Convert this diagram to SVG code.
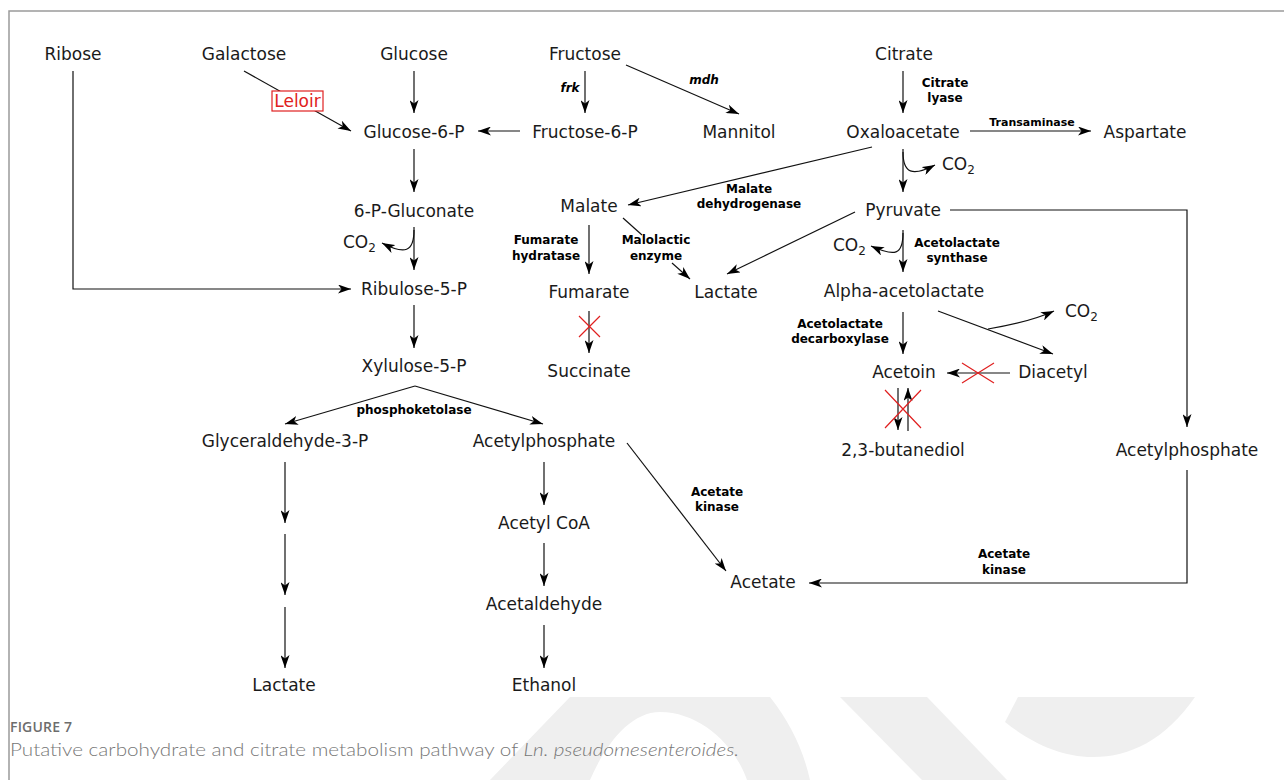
<svg xmlns="http://www.w3.org/2000/svg" width="1284" height="780" viewBox="0 0 1284 780">
<defs>
<marker id="ah" markerUnits="userSpaceOnUse" viewBox="0 0 13 9" refX="13" refY="4.5" markerWidth="13" markerHeight="9" orient="auto">
<path d="M0,0 L13,4.5 L0,9 L3.5,4.5 Z" fill="#000"/>
</marker>
</defs>
<style>
.n{font-family:"DejaVu Sans",Verdana,sans-serif;font-size:17px;fill:#1a1a1a;text-anchor:middle}
.co{font-family:"DejaVu Sans",Verdana,sans-serif;font-size:17px;fill:#1a1a1a}
.l{font-family:"DejaVu Sans",Verdana,sans-serif;font-size:12px;font-weight:bold;fill:#000;text-anchor:middle}
.li{font-style:italic}
.c{fill:none;stroke:#111;stroke-width:1.2}
.a{marker-end:url(#ah)}
.x{stroke:#e02020;stroke-width:1.2;fill:none}
.wm{fill:#efefef}
</style>
<rect width="1284" height="780" fill="#fff"/>
<g id="watermark">
<path class="wm" d="M490,780 L570,697 L770,697 Q800,735 810,780 L747,780 C735,745 700,712 660,712 C630,712 605,745 590,780 Z"/>
<path class="wm" d="M840,697 L927,697 L1007,780 L922,780 Z"/>
<path class="wm" d="M1018,697 L1195,697 C1165,740 1130,757 1093,757 C1060,757 1030,742 1005,722 Z"/>
</g>
<path d="M9,780 V11 H1284" fill="none" stroke="#9a9a9a" stroke-width="1.5"/>

<g id="connectors">
<path class="c" d="M73,71 V289 H351" marker-end="url(#ah)"/>
<path class="c a" d="M244,71 L351,131"/>
<path class="c a" d="M414,71 V113"/>
<path class="c a" d="M520,131 H478"/>
<path class="c a" d="M585,71 V113"/>
<path class="c a" d="M626,65 L739,114"/>
<path class="c a" d="M903,71 V113"/>
<path class="c a" d="M970,131 H1091"/>
<path class="c a" d="M414,149 V192"/>
<path class="c a" d="M414,227 V270"/>
<path class="c a" d="M414,230 C414,252 405,255 382,243"/>
<path class="c a" d="M903,149 V192"/>
<path class="c a" d="M903,152 C903,173 912,177 935,165"/>
<path class="c a" d="M872,147 L628,205"/>
<path class="c a" d="M950,210 H1187 V427"/>
<path class="c a" d="M589,225 V274"/>
<path class="c" d="M623,218 L642,235"/>
<path class="c a" d="M672,263 L690,279"/>
<path class="c a" d="M855,212 L727,274"/>
<path class="c a" d="M903,230 V272"/>
<path class="c a" d="M903,233 C903,255 895,257 871,246"/>
<path class="c a" d="M589,311 V353"/>
<path class="c a" d="M414,305 V348"/>
<path class="c a" d="M903,312 V354"/>
<path class="c a" d="M938,311 L1053,354"/>
<path class="c a" d="M988,329 Q1030,322 1054,311"/>
<path class="c a" d="M1010,373 H947"/>
<path class="c a" d="M898,388 V430"/>
<path class="c a" d="M908,431 V388"/>
<path class="c a" d="M415,386 L285,424"/>
<path class="c a" d="M415,386 L543,424"/>
<path class="c a" d="M285,462 V523"/>
<path class="c a" d="M285,534 V595"/>
<path class="c a" d="M285,607 V668"/>
<path class="c a" d="M544,462 V505"/>
<path class="c a" d="M544,543 V586"/>
<path class="c a" d="M544,625 V668"/>
<path class="c a" d="M627,443 L726,571"/>
<path class="c a" d="M1187,470 V583 H809"/>
<path class="x" d="M579,316 L600,337 M600,316 L579,337"/>
<path class="x" d="M962,363 L994,383 M994,363 L962,383"/>
<path class="x" d="M885,390 L921,428 M921,390 L885,428"/>
</g>

<g id="n-ribose"><text class="n" x="73" y="60">Ribose</text></g>
<g id="n-galactose"><text class="n" x="244" y="60">Galactose</text></g>
<g id="n-leloir"><rect x="272" y="91" width="51" height="20" fill="#fff" stroke="#e02020" stroke-width="1.2"/><text class="n" x="297.5" y="107" style="fill:#e02020">Leloir</text></g>
<g id="n-glucose"><text class="n" x="414" y="60">Glucose</text></g>
<g id="n-fructose"><text class="n" x="585" y="60">Fructose</text></g>
<g id="n-citrate"><text class="n" x="904" y="60">Citrate</text></g>
<g id="n-g6p"><text class="n" x="414" y="138">Glucose-6-P</text></g>
<g id="n-f6p"><text class="n" x="585" y="138">Fructose-6-P</text></g>
<g id="n-mannitol"><text class="n" x="739" y="138">Mannitol</text></g>
<g id="n-oxaloacetate"><text class="n" x="903" y="138">Oxaloacetate</text></g>
<g id="n-aspartate"><text class="n" x="1145" y="138">Aspartate</text></g>
<g id="n-6pg"><text class="n" x="414" y="217">6-P-Gluconate</text></g>
<g id="n-malate"><text class="n" x="589" y="212">Malate</text></g>
<g id="n-pyruvate"><text class="n" x="903" y="216">Pyruvate</text></g>
<g id="n-ribulose"><text class="n" x="414" y="295">Ribulose-5-P</text></g>
<g id="n-fumarate"><text class="n" x="589" y="298">Fumarate</text></g>
<g id="n-lactate1"><text class="n" x="726" y="298">Lactate</text></g>
<g id="n-alpha"><text class="n" x="904" y="297">Alpha-acetolactate</text></g>
<g id="n-xylulose"><text class="n" x="414" y="372">Xylulose-5-P</text></g>
<g id="n-succinate"><text class="n" x="589" y="377">Succinate</text></g>
<g id="n-acetoin"><text class="n" x="904" y="378">Acetoin</text></g>
<g id="n-diacetyl"><text class="n" x="1053" y="378">Diacetyl</text></g>
<g id="n-g3p"><text class="n" x="285" y="447">Glyceraldehyde-3-P</text></g>
<g id="n-acp1"><text class="n" x="544" y="447">Acetylphosphate</text></g>
<g id="n-butanediol"><text class="n" x="903" y="456">2,3-butanediol</text></g>
<g id="n-acp2"><text class="n" x="1187" y="456">Acetylphosphate</text></g>
<g id="n-acetylcoa"><text class="n" x="544" y="529">Acetyl CoA</text></g>
<g id="n-acetate"><text class="n" x="763" y="588">Acetate</text></g>
<g id="n-acetaldehyde"><text class="n" x="544" y="610">Acetaldehyde</text></g>
<g id="n-lactate2"><text class="n" x="284" y="691">Lactate</text></g>
<g id="n-ethanol"><text class="n" x="544" y="691">Ethanol</text></g>
<g id="n-co2a"><text class="co" x="343" y="248">CO<tspan font-size="12" dy="4">2</tspan></text></g>
<g id="n-co2b"><text class="co" x="942" y="170">CO<tspan font-size="12" dy="4">2</tspan></text></g>
<g id="n-co2c"><text class="co" x="833" y="251">CO<tspan font-size="12" dy="4">2</tspan></text></g>
<g id="n-co2d"><text class="co" x="1065" y="317">CO<tspan font-size="12" dy="4">2</tspan></text></g>

<g id="labels">
<text class="l li" x="570" y="92">frk</text>
<text class="l li" x="704" y="84">mdh</text>
<text class="l" x="945" y="87">Citrate</text>
<text class="l" x="945" y="102">lyase</text>
<text class="l" x="1032" y="126" style="font-size:11px">Transaminase</text>
<text class="l" x="749" y="193">Malate</text>
<text class="l" x="749" y="208">dehydrogenase</text>
<text class="l" x="546" y="244">Fumarate</text>
<text class="l" x="546" y="260">hydratase</text>
<text class="l" x="656" y="244">Malolactic</text>
<text class="l" x="656" y="260">enzyme</text>
<text class="l" x="957" y="247">Acetolactate</text>
<text class="l" x="957" y="262">synthase</text>
<text class="l" x="840" y="328">Acetolactate</text>
<text class="l" x="840" y="343">decarboxylase</text>
<text class="l" x="414" y="414">phosphoketolase</text>
<text class="l" x="717" y="496">Acetate</text>
<text class="l" x="717" y="511">kinase</text>
<text class="l" x="1004" y="558">Acetate</text>
<text class="l" x="1004" y="574">kinase</text>
</g>

<g id="caption">
<text x="10" y="732" font-family="'Open Sans','Noto Sans',sans-serif" font-size="14" font-weight="600" fill="#6d6d6d" textLength="62">FIGURE 7</text>
<text x="10" y="756" font-family="Lato,'Open Sans',sans-serif" font-size="18" font-weight="300" fill="#777" textLength="729" lengthAdjust="spacingAndGlyphs">Putative carbohydrate and citrate metabolism pathway of <tspan font-style="italic">Ln. pseudomesenteroides.</tspan></text>
</g>
</svg>
